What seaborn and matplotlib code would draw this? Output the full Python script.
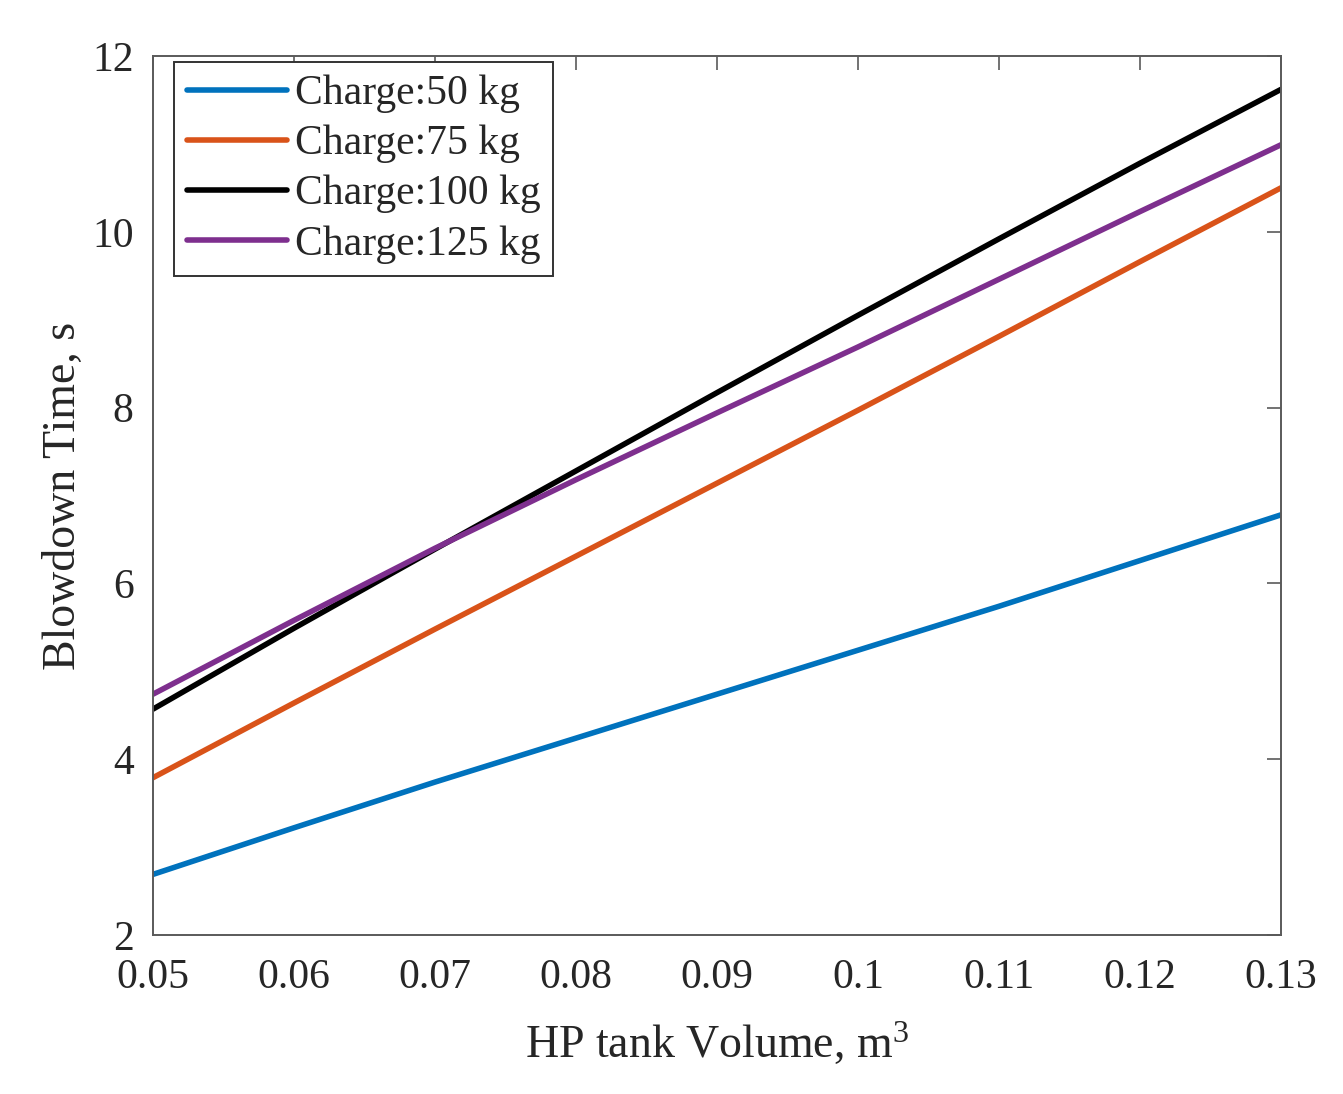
import matplotlib
matplotlib.use("Agg")
import matplotlib.pyplot as plt
import matplotlib.ticker as mticker
import pandas
import seaborn as sns

# HP tank volume, m^3
volume = [0.05, 0.06, 0.07, 0.08, 0.09, 0.10, 0.11, 0.12, 0.13]

# blowdown time, s
t_50 = [2.69, 3.22, 3.74, 4.24, 4.74, 5.24, 5.74, 6.26, 6.78]
t_75 = [3.79, 4.64, 5.48, 6.31, 7.14, 7.97, 8.81, 9.66, 10.50]
t_100 = [4.57, 5.49, 6.39, 7.28, 8.17, 9.05, 9.92, 10.78, 11.62]
t_125 = [4.74, 5.58, 6.40, 7.18, 7.94, 8.69, 9.46, 10.23, 10.99]

labels = ["Charge:50 kg", "Charge:75 kg", "Charge:100 kg", "Charge:125 kg"]
colors = ["#0072BD", "#D95319", "#000000", "#7E2F8E"]

x_ticks = [0.05, 0.06, 0.07, 0.08, 0.09, 0.1, 0.11, 0.12, 0.13]
y_ticks = [2, 4, 6, 8, 10, 12]

frames = []
for lab, vals in zip(labels, [t_50, t_75, t_100, t_125]):
    frames.append(pandas.DataFrame({"volume": volume, "time": vals, "charge": lab}))
df = pandas.concat(frames, ignore_index=True)

sns.set_theme(style="white")
plt.rcParams["font.family"] = ["Liberation Serif", "DejaVu Serif"]
plt.rcParams["mathtext.fontset"] = "custom"
plt.rcParams["mathtext.rm"] = "Liberation Serif"
plt.rcParams["mathtext.it"] = "Liberation Serif:italic"

fig = plt.figure(figsize=(13.43, 10.94), dpi=100)
ax = fig.add_axes([0.1139, 0.1453, 0.8399, 0.8035])

sns.lineplot(
    data=df,
    x="volume",
    y="time",
    hue="charge",
    hue_order=labels,
    palette=dict(zip(labels, colors)),
    linewidth=4.0,
    ax=ax,
)

ax.set_xlim(0.05, 0.13)
ax.set_ylim(2, 12)
ax.xaxis.set_major_locator(mticker.FixedLocator(x_ticks))
ax.xaxis.set_major_formatter(mticker.FuncFormatter(lambda v, p: f"{v:g}"))
ax.yaxis.set_major_locator(mticker.FixedLocator(y_ticks))

text_col = "#262626"
for s in ax.spines.values():
    s.set_color("#5a5a5a")
    s.set_linewidth(1.4)
ax.tick_params(
    axis="both", direction="in", length=10, width=1.2, color="#5a5a5a",
    labelsize=30, labelcolor=text_col, top=True, right=True,
)
ax.tick_params(axis="x", pad=17)
ax.tick_params(axis="y", pad=14)

ax.set_xlabel("HP tank Volume, m$^3$", fontsize=33, color=text_col, labelpad=17)
ax.set_ylabel("Blowdown Time, s", fontsize=33, color=text_col, labelpad=5)

leg = ax.legend(
    loc="upper left",
    bbox_to_anchor=(0.019, 0.993),
    fontsize=30,
    frameon=True,
    fancybox=False,
    framealpha=1,
    edgecolor="#333333",
    handlelength=2.4,
    handletextpad=0.2,
    labelspacing=0.28,
    borderpad=0.3,
    borderaxespad=0,
    title=None,
)
leg.get_frame().set_linewidth(1.4)
for t in leg.get_texts():
    t.set_color(text_col)
for h in leg.get_lines():
    h.set_linewidth(4.0)

fig.savefig("out.png", dpi=100, facecolor="white")
